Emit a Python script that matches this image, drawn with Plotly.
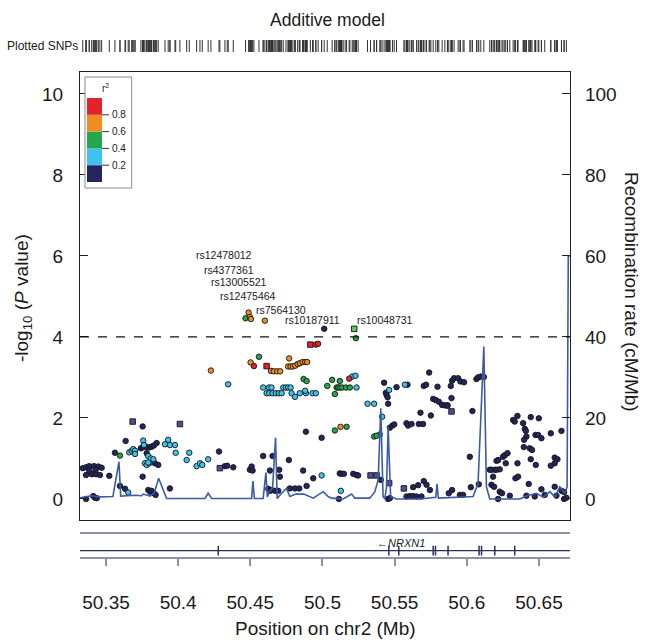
import plotly.graph_objects as go

# ---------------- data ----------------
# r^2 bins: navy <0.2, cyan 0.2-0.4, green 0.4-0.6, orange 0.6-0.8, red >0.8
red_pos = [50.4954, 50.4970, 50.4525, 50.5185]
red_logp = [3.81, 3.83, 3.28, 2.97]
red_sq_pos = [50.4916, 50.4613]
red_sq_logp = [3.81, 3.28]

orange_pos = [50.4488, 50.4497, 50.4504, 50.4601, 50.4502, 50.4769, 50.4762, 50.4779, 50.4795,
              50.4811, 50.4828, 50.4843, 50.4862, 50.4880, 50.4894, 50.4643, 50.4663, 50.4686,
              50.4707, 50.4227, 50.5125]
orange_logp = [4.60, 4.49, 4.44, 4.40, 3.37, 3.47, 3.27, 3.27, 3.27,
               3.29, 3.33, 3.35, 3.38, 3.38, 3.38, 3.16, 3.15, 3.15,
               3.15, 3.17, 1.78]

green_pos = [50.4467, 50.5231, 50.4560, 50.4869, 50.4890, 50.5033, 50.5067, 50.5098, 50.5109,
             50.5120, 50.5136, 50.5162, 50.5190, 50.5086, 50.5120, 50.5086, 50.5167, 50.5358,
             50.5375, 50.3597]
green_logp = [4.46, 3.97, 3.51, 2.96, 2.91, 2.79, 2.94, 2.75, 2.75,
              2.75, 2.75, 2.75, 2.75, 2.59, 2.91, 1.69, 1.78, 1.54,
              1.56, 1.07]
green_sq_pos = [50.5220]
green_sq_logp = [4.20]

cyan_pos = [50.4347, 50.4589, 50.4629, 50.4647, 50.4728, 50.4747, 50.4762, 50.4779,
            50.4613, 50.4631, 50.4654, 50.4677, 50.4698, 50.4717, 50.4786, 50.4843, 50.4885,
            50.4931, 50.4954, 50.4809, 50.4880, 50.5236, 50.5206, 50.5229, 50.5462, 50.5571,
            50.5312, 50.5358, 50.5413, 50.5397, 50.5127, 50.4994, 50.3654, 50.3758, 50.3763,
            50.3661, 50.3678, 50.3689, 50.3701, 50.3701, 50.3793, 50.3810, 50.3828, 50.3770,
            50.3782, 50.3800, 50.3793, 50.3909, 50.3931, 50.3943, 50.3978, 50.3983, 50.4059,
            50.4077, 50.4128, 50.4151, 50.4167, 50.4208]
cyan_logp = [2.83, 2.75, 2.75, 2.75, 2.75, 2.75, 2.75, 2.75,
             2.61, 2.61, 2.61, 2.61, 2.61, 2.61, 2.61, 2.61, 2.61,
             2.61, 2.61, 2.52, 2.67, 2.75, 3.02, 3.04, 2.69, 2.82,
             2.35, 2.35, 2.03, 1.59, 0.20, 0.58, 0.16, 1.44, 1.33,
             1.15, 1.19, 1.23, 1.19, 1.11, 1.06, 1.00, 0.98, 0.88,
             0.84, 0.88, 0.90, 1.35, 1.46, 1.33, 1.33, 1.14, 0.96,
             1.14, 0.81, 0.88, 0.84, 0.98]

navy_pos = [50.5012, 50.5427, 50.5439, 50.5444, 50.5451, 50.5513, 50.5589, 50.5702, 50.5718,
            50.5739, 50.5797, 50.5767, 50.5785, 50.5806, 50.5829, 50.5848, 50.5866, 50.5679,
            50.5751, 50.5455, 50.5467, 50.5485, 50.5497, 50.5582, 50.5593, 50.5617, 50.5668,
            50.5697, 50.5120, 50.5132, 50.5148, 50.5213, 50.5236, 50.5247, 50.5404, 50.5114,
            50.5628, 50.5663, 50.5702, 50.5721, 50.5744, 50.5582, 50.5605, 50.5628, 50.5652,
            50.5686, 50.5455, 50.5467,
            50.5898, 50.5912, 50.5940, 50.5956, 50.5981, 50.5889, 50.5894, 50.5866, 50.6039,
            50.6067, 50.6078, 50.6097, 50.6118, 50.6021, 50.6028, 50.6083, 50.5898, 50.5875,
            50.5952, 50.5974, 50.6159, 50.6171, 50.6194, 50.6182, 50.6206, 50.6228, 50.6206,
            50.6217, 50.6251, 50.6263, 50.6282, 50.6270, 50.6171, 50.6189, 50.6228, 50.6244,
            50.6217, 50.6321, 50.6332, 50.6351, 50.6390, 50.6402, 50.6409, 50.6443, 50.6499,
            50.6413, 50.6397, 50.6395, 50.6436, 50.6452, 50.6476, 50.6494, 50.6517, 50.6582,
            50.6656, 50.6351, 50.6443, 50.6478, 50.6609, 50.6628, 50.6609, 50.6582, 50.6337,
            50.6355, 50.6429, 50.6517, 50.6609, 50.6656, 50.6298, 50.6413, 50.6471, 50.6540,
            50.6621, 50.6674, 50.6674, 50.6690,
            50.3339, 50.3362, 50.3384, 50.3417, 50.3447, 50.3470, 50.3362, 50.3401, 50.3417,
            50.3431, 50.3458, 50.3384, 50.3429, 50.3523, 50.3362, 50.3412, 50.3424, 50.3436,
            50.3562, 50.3597, 50.3632, 50.3636, 50.3754, 50.3742, 50.3758, 50.3782, 50.3800,
            50.3816, 50.3832, 50.3851, 50.3782, 50.3839, 50.3862, 50.3754, 50.3793, 50.3805,
            50.3816, 50.3832, 50.3844, 50.3943,
            50.4283, 50.4324, 50.4340, 50.4382, 50.4497, 50.4509, 50.4516, 50.4589, 50.4654,
            50.4636, 50.4705, 50.4700, 50.4767, 50.4885, 50.4994, 50.4866, 50.4936, 50.4890,
            50.4624, 50.4636, 50.4647, 50.4670, 50.4693, 50.4774, 50.4809, 50.4839]
navy_logp = [4.20, 2.87, 2.62, 2.57, 2.51, 2.76, 2.82, 2.79, 2.82,
             3.12, 2.77, 2.47, 2.44, 2.40, 2.32, 2.31, 2.31, 2.13,
             2.06, 2.35, 1.76, 1.81, 1.84, 1.87, 1.81, 1.85, 1.85,
             1.85, 0.63, 0.62, 0.62, 0.62, 0.59, 0.58, 0.47, 0.00,
             0.29, 0.34, 0.44, 0.35, 0.22, 0.06, 0.07, 0.07, 0.06,
             0.06, 0.00, 0.02,
             2.92, 2.98, 2.98, 2.90, 2.88, 2.79, 2.49, 2.30, 2.17,
             2.96, 3.00, 3.02, 3.01, 1.04, 0.29, 0.36, 0.22, 0.14,
             0.10, 0.10, 0.72, 0.72, 0.72, 0.55, 0.72, 0.73, 0.94,
             0.96, 1.04, 1.08, 1.13, 0.88, 0.35, 0.30, 0.18, 0.14,
             0.00, 1.95, 1.91, 2.05, 1.87, 1.73, 1.68, 2.02, 1.99,
             1.54, 1.46, 1.28, 1.25, 1.21, 1.58, 1.58, 1.50, 1.62,
             1.68, 0.88, 0.98, 0.84, 1.02, 0.98, 0.88, 0.82, 0.51,
             0.55, 0.37, 0.24, 0.30, 0.20, 0.08, 0.08, 0.06, 0.10,
             0.08, 0.17, 0.00, 0.03,
             0.76, 0.78, 0.81, 0.81, 0.80, 0.77, 0.59, 0.61, 0.63,
             0.61, 0.59, 0.70, 0.72, 0.57, 0.00, 0.07, 0.03, 0.02,
             1.14, 0.32, 0.25, 1.43, 1.79, 1.25, 1.28, 1.28, 1.27,
             1.29, 1.32, 1.38, 1.13, 0.88, 0.84, 0.55, 0.22, 0.18,
             0.20, 0.14, 0.10, 0.26,
             1.17, 0.81, 0.82, 0.78, 0.72, 0.80, 0.70, 1.06, 1.06,
             0.70, 0.55, 0.72, 0.96, 1.66, 1.51, 0.70, 0.51, 0.32,
             0.25, 0.20, 0.22, 0.20, 0.20, 0.26, 0.26, 0.26]
navy_sq_pos = [50.5333, 50.5375, 50.5462, 50.5564, 50.5894, 50.3685, 50.4012, 50.4289]
navy_sq_logp = [0.58, 0.58, 0.39, 0.26, 2.16, 1.91, 1.85, 0.76]

# recombination rate (cM/Mb)
recomb_pos = [50.3320, 50.3400, 50.3458, 50.3548, 50.3590, 50.3602, 50.3700, 50.3747, 50.3758,
              50.3805, 50.3835, 50.3865, 50.3920, 50.4186, 50.4208, 50.4232, 50.4509, 50.4518,
              50.4528, 50.4589, 50.4608, 50.4618, 50.4631, 50.4654, 50.4675, 50.4686, 50.4717,
              50.4751, 50.4774, 50.4816, 50.4871, 50.4936, 50.5005, 50.5039, 50.5063, 50.5109,
              50.5143, 50.5202, 50.5224, 50.5328, 50.5363, 50.5386, 50.5404, 50.5420, 50.5432,
              50.5444, 50.5455, 50.5472, 50.5513, 50.5675, 50.5785, 50.5794, 50.5803, 50.6044,
              50.6078, 50.6118, 50.6136, 50.6159, 50.6275, 50.6367, 50.6420, 50.6483, 50.6530,
              50.6575, 50.6610, 50.6644, 50.6679, 50.6695, 50.6703, 50.6715]
recomb_rate = [0.3, 0.8, 0.5, 0.6, 9.2, 0.7, 0.9, 0.8, 1.2,
               0.7, 1.5, 5.1, 0.1, 0.1, 1.4, 0.1, 0.1, 4.4,
               0.1, 0.1, 6.5, 0.5, 1.8, 2.6, 15.1, 0.1, 1.4,
               2.6, 0.6, 1.2, 1.2, 0.2, 1.8, 0.6, 0.2, 0.0,
               0.0, 1.2, 0.2, 0.2, 1.8, 4.7, 22.4, 0.6, 0.0,
               3.0, 17.8, 0.6, 0.0, 0.0, 0.4, 3.7, 0.2, 0.6,
               3.9, 37.6, 3.0, 0.0, 0.1, 0.0, 0.8, 1.4, 0.4,
               1.8, 0.5, 3.0, 1.4, 3.0, 60.0, 60.0]

# labelled SNPs
label_text = ["rs12478012", "rs4377361", "rs13005521", "rs12475464", "rs7564130", "rs10187911", "rs10048731"]
label_pos = [50.4317, 50.4354, 50.4424, 50.4482, 50.4712, 50.4933, 50.5432]
label_logp = [6.02, 5.65, 5.36, 5.02, 4.67, 4.42, 4.42]

# gene track
gene_name = "NRXN1"
gene_start, gene_end = 50.145, 51.259
exon_pos = [50.4278, 50.5460, 50.5529, 50.5767, 50.5783, 50.5870, 50.6085, 50.6102, 50.6194, 50.6332]

x_ticks = [50.35, 50.40, 50.45, 50.50, 50.55, 50.60, 50.65]
x_ticktext = ["50.35", "50.4", "50.45", "50.5", "50.55", "50.6", "50.65"]
y_ticks = [0, 2, 4, 6, 8, 10]
y2_ticks = [0, 20, 40, 60, 80, 100]
threshold = 4
legend_breaks = ["0.2", "0.4", "0.6", "0.8"]

# ---------------- style ----------------
W, H = 649, 640
FONT = "Liberation Sans, Arial, sans-serif"
C_NAVY, C_CYAN, C_GREEN, C_ORANGE, C_RED = "#23265e", "#3ec2ef", "#25a64a", "#f08c22", "#e3232b"
TXT = "#1a1a1a"
XR = [50.332, 50.6715]
YR = [-0.52, 10.54]
XD = [80 / W, 570 / W]


def fx(p):
    return p / W


def fy(p):
    return 1 - p / H


fig = go.Figure()

fig.add_trace(go.Scatter(x=recomb_pos, y=recomb_rate, mode="lines", xaxis="x", yaxis="y3",
                         line=dict(color="#3b5ba8", width=1.6), hoverinfo="skip", showlegend=False))


def add_pts(xs, ys, color, symbol="circle"):
    fig.add_trace(go.Scatter(x=xs, y=ys, mode="markers", xaxis="x", yaxis="y", showlegend=False,
                             marker=dict(color=color, size=5.5, symbol=symbol,
                                         line=dict(color="#151515", width=0.9))))


add_pts(navy_pos, navy_logp, C_NAVY)
add_pts(navy_sq_pos, navy_sq_logp, "#4a4f9a", "square")
add_pts(cyan_pos, cyan_logp, C_CYAN)
add_pts(green_pos, green_logp, C_GREEN)
add_pts(green_sq_pos, green_sq_logp, "#5cc45a", "square")
add_pts(orange_pos, orange_logp, C_ORANGE)
add_pts(red_pos, red_logp, C_RED)
add_pts(red_sq_pos, red_sq_logp, C_RED, "square")

# plotted SNP rug
all_pos = sorted(navy_pos + navy_sq_pos + cyan_pos + green_pos + green_sq_pos + orange_pos + red_pos + red_sq_pos)
fig.add_trace(go.Scatter(x=all_pos, y=[0.5] * len(all_pos), mode="markers", xaxis="x", yaxis="y4",
                         marker=dict(symbol="line-ns", size=12, line=dict(color="#333333", width=1)),
                         showlegend=False, hoverinfo="skip"))

# gene
fig.add_trace(go.Scatter(x=[gene_start, gene_end], y=[0.264, 0.264], mode="lines", xaxis="x2", yaxis="y2",
                         line=dict(color="#2a2e60", width=1.2), showlegend=False, hoverinfo="skip"))
fig.add_trace(go.Scatter(x=exon_pos, y=[0.264] * len(exon_pos), mode="markers", xaxis="x2", yaxis="y2",
                         marker=dict(symbol="line-ns", size=7, line=dict(color="#2a2e60", width=1.5)),
                         showlegend=False, hoverinfo="skip"))

shapes = []
annotations = []


def note(text, x, y, size, xref="paper", yref="paper", xanchor="center", angle=0):
    annotations.append(dict(text=text, x=x, y=y, xref=xref, yref=yref, xanchor=xanchor, yanchor="middle",
                            textangle=angle, showarrow=False, font=dict(size=size, color=TXT, family=FONT)))


# threshold dashed line
shapes.append(dict(type="line", xref="paper", yref="y", x0=XD[0], x1=XD[1], y0=threshold, y1=threshold,
                   line=dict(color="#111111", width=1.2, dash="dash")))

# r2 legend
shapes.append(dict(type="rect", xref="paper", yref="paper", x0=fx(85), x1=fx(131.7), y0=fy(188), y1=fy(77),
                   line=dict(color="#888888", width=1), fillcolor="white"))
cols = [C_NAVY, C_CYAN, C_GREEN, C_ORANGE, C_RED]
step = 16.8
for i, c in enumerate(cols):
    b = 182 - i * step
    shapes.append(dict(type="rect", xref="paper", yref="paper", x0=fx(87), x1=fx(102), y0=fy(b), y1=fy(b - step),
                       line=dict(width=0), fillcolor=c))
for i, lab in enumerate(legend_breaks):
    yy = 182 - (i + 1) * step
    shapes.append(dict(type="line", xref="paper", yref="paper", x0=fx(102), x1=fx(109), y0=fy(yy), y1=fy(yy),
                       line=dict(color="#333333", width=1)))
    note(lab, fx(110), fy(yy), 10, xanchor="left")
note("r<sup>2</sup>", fx(105), fy(88), 10)

# SNP labels
for t, xp, yp in zip(label_text, label_pos, label_logp):
    note(t, xp, yp, 10.5, xref="x", yref="y")

# gene label
note("\u2190<i>" + gene_name + "</i>", fx(401), fy(542.5), 11)

# titles
note("Additive model", fx(327), fy(20), 17.5)
note("Plotted SNPs", fx(5), fy(46), 12, xanchor="left")
note("-log<sub>10</sub> (<i>P</i> value)", fx(23), fy(298), 19, angle=-90)
note("Recombination rate (cM/Mb)", fx(632), fy(292), 19, angle=90)
note("Position on chr2 (Mb)", fx(325), fy(628), 19)

fig.update_layout(
    width=W, height=H, margin=dict(l=0, r=0, t=0, b=0, autoexpand=False),
    paper_bgcolor="white", plot_bgcolor="white", showlegend=False,
    font=dict(family=FONT, color=TXT),
    shapes=shapes, annotations=annotations,
    xaxis=dict(domain=XD, range=XR, anchor="y", showline=True, mirror=True, linecolor="#222222",
               linewidth=1.2, ticks="", showticklabels=False, showgrid=False, zeroline=False),
    yaxis=dict(domain=[fy(520), fy(72)], range=YR, anchor="x", tickvals=y_ticks, ticks="inside", ticklen=8,
               tickcolor="#222222", showline=True, linecolor="#222222", linewidth=1.2, showgrid=False,
               zeroline=False, tickfont=dict(size=19, color=TXT), ticklabelstandoff=12),
    yaxis3=dict(overlaying="y", side="right", anchor="x", range=[YR[0] * 10, YR[1] * 10], tickvals=y2_ticks,
                ticks="inside", ticklen=8, tickcolor="#222222", showline=True, linecolor="#222222",
                linewidth=1.2, showgrid=False, zeroline=False, tickfont=dict(size=19, color=TXT),
                ticklabelstandoff=10),
    xaxis2=dict(domain=XD, range=XR, anchor="y2", tickvals=x_ticks, ticktext=x_ticktext, ticks="outside",
                ticklen=8, tickcolor="#8a94a6", tickwidth=1.5, showline=True, mirror=True, linecolor="#8a94a6",
                linewidth=1.5, showgrid=False, zeroline=False, tickfont=dict(size=19, color=TXT),
                ticklabelstandoff=20),
    yaxis2=dict(domain=[fy(556.7), fy(534)], range=[0, 1], anchor="x2", visible=False),
    yaxis4=dict(domain=[fy(52), fy(40)], range=[0, 1], anchor="x", visible=False),
)

fig.write_html("out.html", config={"displayModeBar": False},
               post_script="document.body.style.margin='0px';document.body.style.overflow='hidden';")
